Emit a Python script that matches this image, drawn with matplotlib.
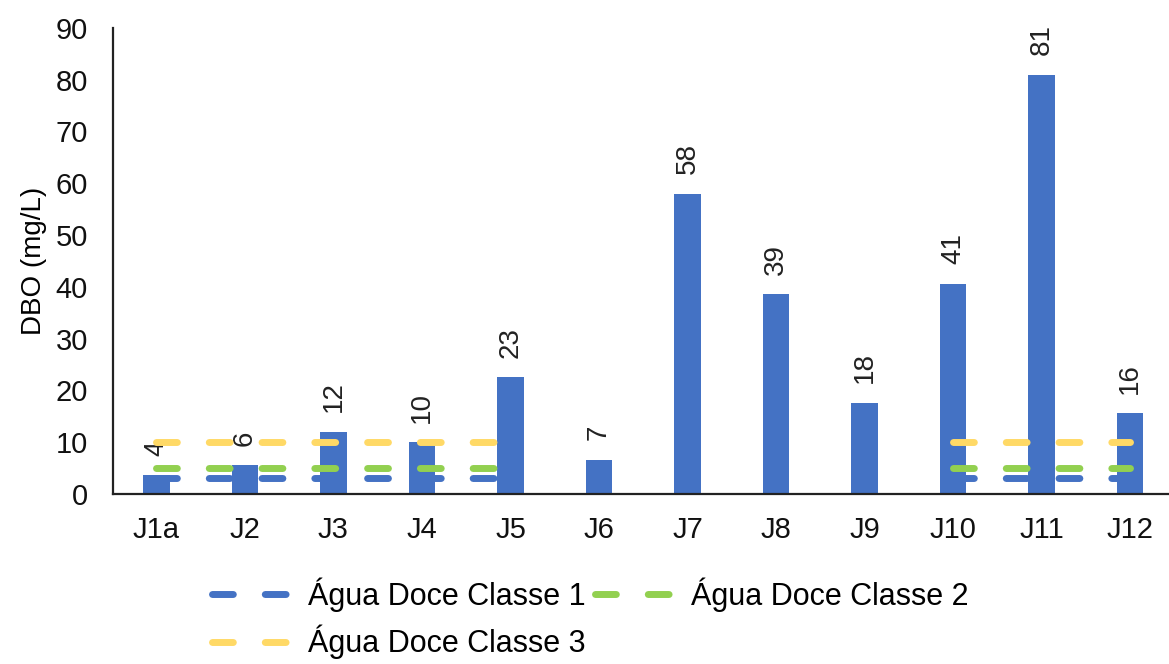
import matplotlib.pyplot as plt
import numpy as np

plt.rcParams['font.family'] = ['Liberation Sans', 'DejaVu Sans']

estacoes = ["J1a", "J2", "J3", "J4", "J5", "J6", "J7", "J8", "J9", "J10", "J11", "J12"]
dbo = [3.6, 5.6, 12.0, 10.0, 22.6, 6.6, 58.0, 38.6, 17.6, 40.6, 81.0, 15.6]

# limites CONAMA, só onde o enquadramento se aplica (None = sem linha)
classe1 = [3, 3, 3, 3, 3, None, None, None, None, 3, 3, 3]
classe2 = [5, 5, 5, 5, 5, None, None, None, None, 5, 5, 5]
classe3 = [10, 10, 10, 10, 10, None, None, None, None, 10, 10, 10]

nomes_classes = ["Água Doce Classe 1", "Água Doce Classe 2", "Água Doce Classe 3"]

AZUL = "#4472C4"
VERDE = "#92D050"
AMARELO = "#FFD966"

fig = plt.figure(figsize=(11.69, 6.64), dpi=100)
ax = fig.add_axes([0.0967, 0.256, 0.9033, 0.702])

x = np.arange(len(estacoes))
ax.bar(x, dbo, width=0.3, color=AZUL, zorder=2)

for xi, v in zip(x, dbo):
    ax.annotate(f"{v:.0f}", (xi, v), xytext=(0, 14), textcoords="offset points",
                rotation=90, ha="center", va="bottom", fontsize=20, color="#222222")

linhas = []
for vals, cor in zip([classe1, classe2, classe3], [AZUL, VERDE, AMARELO]):
    y = np.array([np.nan if v is None else v for v in vals], dtype=float)
    ln, = ax.plot(x, y, color=cor, lw=5, dashes=(3, 4.6), dash_capstyle="round",
                  solid_capstyle="round", zorder=3)
    linhas.append(ln)

ax.set_xlim(-0.49, 11.44)
ax.set_ylim(0, 90)
ax.set_yticks(np.arange(0, 91, 10))
ax.set_xticks(x)
ax.set_xticklabels(estacoes)
ax.tick_params(axis="both", length=0, labelsize=21, colors="#111111")
ax.tick_params(axis="y", pad=18)
ax.tick_params(axis="x", pad=16)

for s in ["top", "right"]:
    ax.spines[s].set_visible(False)
for s in ["left", "bottom"]:
    ax.spines[s].set_linewidth(1.6)
    ax.spines[s].set_color("#222222")

ax.set_ylabel("DBO (mg/L)", fontsize=20, labelpad=6)

# ordem para preencher por linhas: Classe 1, Classe 2 / Classe 3
ordem = [0, 2, 1]
fig.legend([linhas[i] for i in ordem], [nomes_classes[i] for i in ordem],
           loc="upper center", bbox_to_anchor=(0.505, 0.135),
           ncol=2, frameon=False, fontsize=22, handlelength=2.8,
           columnspacing=0.3, handletextpad=0.35, labelspacing=0.42,
           borderaxespad=0, borderpad=0.1)

fig.savefig("out.png", dpi=100)
